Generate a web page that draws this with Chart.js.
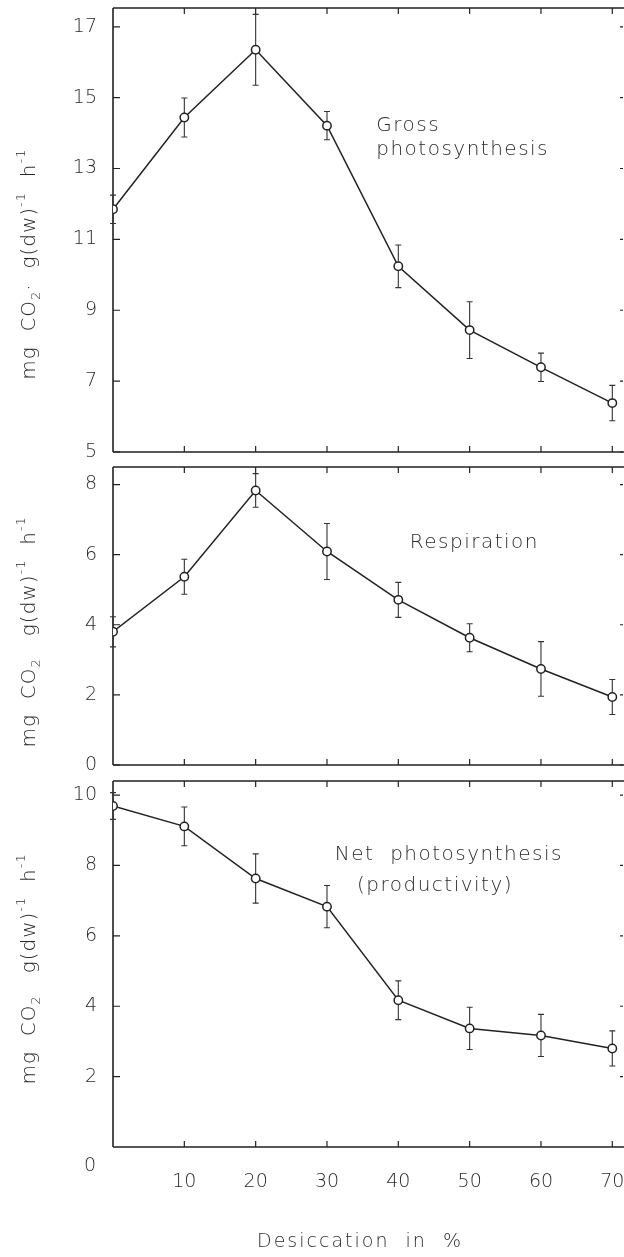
<!DOCTYPE html>
<html lang="en">
<head>
<meta charset="UTF-8">
<title>CO2 exchange vs desiccation</title>
<script src="https://cdn.jsdelivr.net/npm/chart.js@4"></script>
<style>
  html, body { margin: 0; padding: 0; background: #fff; }
  #wrap { position: relative; width: 624px; height: 1257px; overflow: hidden; }
  .panel { position: absolute; left: 0; width: 624px; }
</style>
</head>
<body>
<div id="wrap">
  <div class="panel" style="top:0;height:460px"><canvas id="gross"></canvas></div>
  <div class="panel" style="top:460px;height:312px"><canvas id="resp"></canvas></div>
  <div class="panel" style="top:775px;height:482px"><canvas id="net"></canvas></div>
</div>

<script>
// values
const desiccation = [0, 10, 20, 30, 40, 50, 60, 70];
const grossMean = [11.85, 14.44, 16.35, 14.21, 10.24, 8.44, 7.39, 6.38];
const grossErr  = [0.4, 0.55, 1.0, 0.4, 0.6, 0.8, 0.4, 0.5];
const respMean  = [3.8, 5.37, 7.83, 6.09, 4.71, 3.63, 2.74, 1.94];
const respErr   = [0.43, 0.5, 0.48, 0.8, 0.5, 0.4, 0.78, 0.5];
const netMean   = [9.69, 9.11, 7.63, 6.83, 4.17, 3.37, 3.17, 2.8];
const netErr    = [0.38, 0.55, 0.7, 0.6, 0.55, 0.6, 0.6, 0.5];

const grossTicks = [5, 7, 9, 11, 13, 15, 17];
const respTicks  = [0, 2, 4, 6, 8];
const netTicks   = [2, 4, 6, 8, 10];
const xTicks     = [10, 20, 30, 40, 50, 60, 70];

const FONT = "'DejaVu Sans', Roboto, sans-serif";
const WEIGHT = '200';
const INK = '#222';
const TEXT = '#2b2b2b';

// y axis title pieces, sub/superscripts drawn smaller
const unitGross = [['mg  CO'], ['2', 'sub'], ['·  g(dw)'], ['-1', 'sup'], ['  h'], ['-1', 'sup']];
const unitPlain = [['mg  CO'], ['2', 'sub'], ['   g(dw)'], ['-1', 'sup'], ['  h'], ['-1', 'sup']];

function drawUnit(ctx, parts, cx, cy) {
  ctx.save();
  ctx.translate(cx, cy);
  ctx.rotate(-Math.PI / 2);
  ctx.fillStyle = TEXT;
  ctx.textBaseline = 'middle';
  ctx.letterSpacing = '1px';
  const big = WEIGHT + ' 20px ' + FONT, small = WEIGHT + ' 13px ' + FONT;
  let total = 0;
  parts.forEach(p => { ctx.font = p[1] ? small : big; total += ctx.measureText(p[0]).width; });
  let x = -total / 2;
  parts.forEach(p => {
    ctx.font = p[1] ? small : big;
    const dy = p[1] === 'sub' ? 7 : p[1] === 'sup' ? -8 : 0;
    ctx.fillText(p[0], x, dy);
    x += ctx.measureText(p[0]).width;
  });
  ctx.restore();
}

function makePanel(id, mean, err, yMin, yMax, yTicks, extra) {
  const decor = {
    id: 'decor',
    beforeDatasetsDraw(chart) {
      const { ctx, chartArea: a, scales: { x, y } } = chart;
      ctx.save();
      ctx.strokeStyle = INK;
      // frame: left, top, bottom
      ctx.lineWidth = 1.6;
      ctx.beginPath();
      ctx.moveTo(a.left, a.top); ctx.lineTo(a.right + 6, a.top);
      ctx.moveTo(a.left, a.top); ctx.lineTo(a.left, a.bottom);
      ctx.moveTo(a.left, a.bottom); ctx.lineTo(a.right + 6, a.bottom);
      ctx.stroke();
      // inward ticks
      ctx.lineWidth = 1.2;
      ctx.beginPath();
      yTicks.forEach(v => {
        const py = y.getPixelForValue(v);
        ctx.moveTo(a.left, py); ctx.lineTo(a.left + 7, py);
        ctx.moveTo(a.right, py); ctx.lineTo(a.right - 3, py);
      });
      xTicks.forEach(v => {
        const px = x.getPixelForValue(v);
        ctx.moveTo(px, a.top); ctx.lineTo(px, a.top + 6);
        ctx.moveTo(px, a.bottom); ctx.lineTo(px, a.bottom - 6);
      });
      ctx.stroke();
      // error bars
      ctx.lineWidth = 1.1;
      ctx.strokeStyle = '#333';
      ctx.beginPath();
      desiccation.forEach((d, i) => {
        const px = x.getPixelForValue(d);
        const top = y.getPixelForValue(mean[i] + err[i]);
        const bot = y.getPixelForValue(mean[i] - err[i]);
        ctx.moveTo(px, top); ctx.lineTo(px, bot);
        ctx.moveTo(px - 3, top); ctx.lineTo(px + 3, top);
        ctx.moveTo(px - 3, bot); ctx.lineTo(px + 3, bot);
      });
      ctx.stroke();
      ctx.restore();
    },
    afterDraw(chart) {
      const { ctx, chartArea: a, scales: { x, y } } = chart;
      ctx.save();
      ctx.fillStyle = TEXT;
      ctx.font = WEIGHT + ' 20px ' + FONT;
      ctx.textBaseline = 'middle';
      ctx.textAlign = 'left';
      ctx.letterSpacing = '1.5px';
      extra.notes.forEach(n => {
        ctx.fillText(n[0], x.getPixelForValue(n[1]), y.getPixelForValue(n[2]));
      });
      drawUnit(ctx, extra.unit, 30, y.getPixelForValue(extra.unitAt));
      if (extra.bottom) {
        ctx.font = WEIGHT + ' 19px ' + FONT;
        ctx.textAlign = 'right';
        ctx.letterSpacing = '0px';
        ctx.fillText('0', a.left - 17, a.bottom + 19);
        ctx.textAlign = 'center';
        ctx.letterSpacing = '2px';
        ctx.fillText('Desiccation  in  %', (a.left + a.right) / 2 - 8, a.bottom + 95);
      }
      ctx.restore();
    }
  };

  return new Chart(document.getElementById(id), {
    type: 'line',
    data: {
      datasets: [{
        data: desiccation.map((d, i) => ({ x: d, y: mean[i] })),
        borderColor: INK,
        borderWidth: 1.5,
        tension: 0,
        pointRadius: 4.2,
        pointBorderWidth: 1.5,
        pointBackgroundColor: '#fff',
        pointBorderColor: INK
      }]
    },
    options: {
      responsive: true,
      maintainAspectRatio: false,
      animation: false,
      events: [],
      layout: { padding: extra.padding, autoPadding: false },
      plugins: { legend: { display: false }, tooltip: { enabled: false } },
      scales: {
        x: {
          type: 'linear',
          min: 0,
          max: 71.5,
          display: !!extra.bottom,
          afterBuildTicks: s => { s.ticks = xTicks.map(v => ({ value: v })); },
          afterFit: s => {
            s.height = extra.bottom ? 110 : 0;
            s.paddingLeft = 0; s.paddingRight = 0; s.paddingTop = 0; s.paddingBottom = 0;
          },
          grid: { display: false, drawTicks: false },
          border: { display: false },
          ticks: { padding: 24, color: TEXT, font: { family: FONT, size: 19, weight: WEIGHT } }
        },
        y: {
          min: yMin,
          max: yMax,
          afterBuildTicks: s => { s.ticks = yTicks.map(v => ({ value: v })); },
          afterFit: s => {
            s.width = 113;
            s.paddingLeft = 0; s.paddingRight = 0; s.paddingTop = 0; s.paddingBottom = 0;
          },
          grid: { display: false, drawTicks: false },
          border: { display: false },
          ticks: { padding: 16, color: TEXT, font: { family: FONT, size: 19, weight: WEIGHT } }
        }
      }
    },
    plugins: [decor]
  });
}

makePanel('gross', grossMean, grossErr, 5, 17.53, grossTicks, {
  padding: { top: 8, bottom: 8, left: 0, right: 1 },
  unit: unitGross, unitAt: 10.3,
  notes: [['Gross', 36.9, 14.21], ['photosynthesis', 36.9, 13.54]]
});

makePanel('resp', respMean, respErr, 0, 8.5, respTicks, {
  padding: { top: 7, bottom: 7, left: 0, right: 1 },
  unit: unitPlain, unitAt: 3.8,
  notes: [['Respiration', 41.6, 6.34]]
});

makePanel('net', netMean, netErr, 0, 10.4, netTicks, {
  padding: { top: 6, bottom: 0, left: 0, right: 1 },
  unit: unitPlain, unitAt: 5.06,
  bottom: true,
  notes: [['Net  photosynthesis', 31.1, 8.31], ['(productivity)', 34.2, 7.43]]
});
</script>
</body>
</html>
